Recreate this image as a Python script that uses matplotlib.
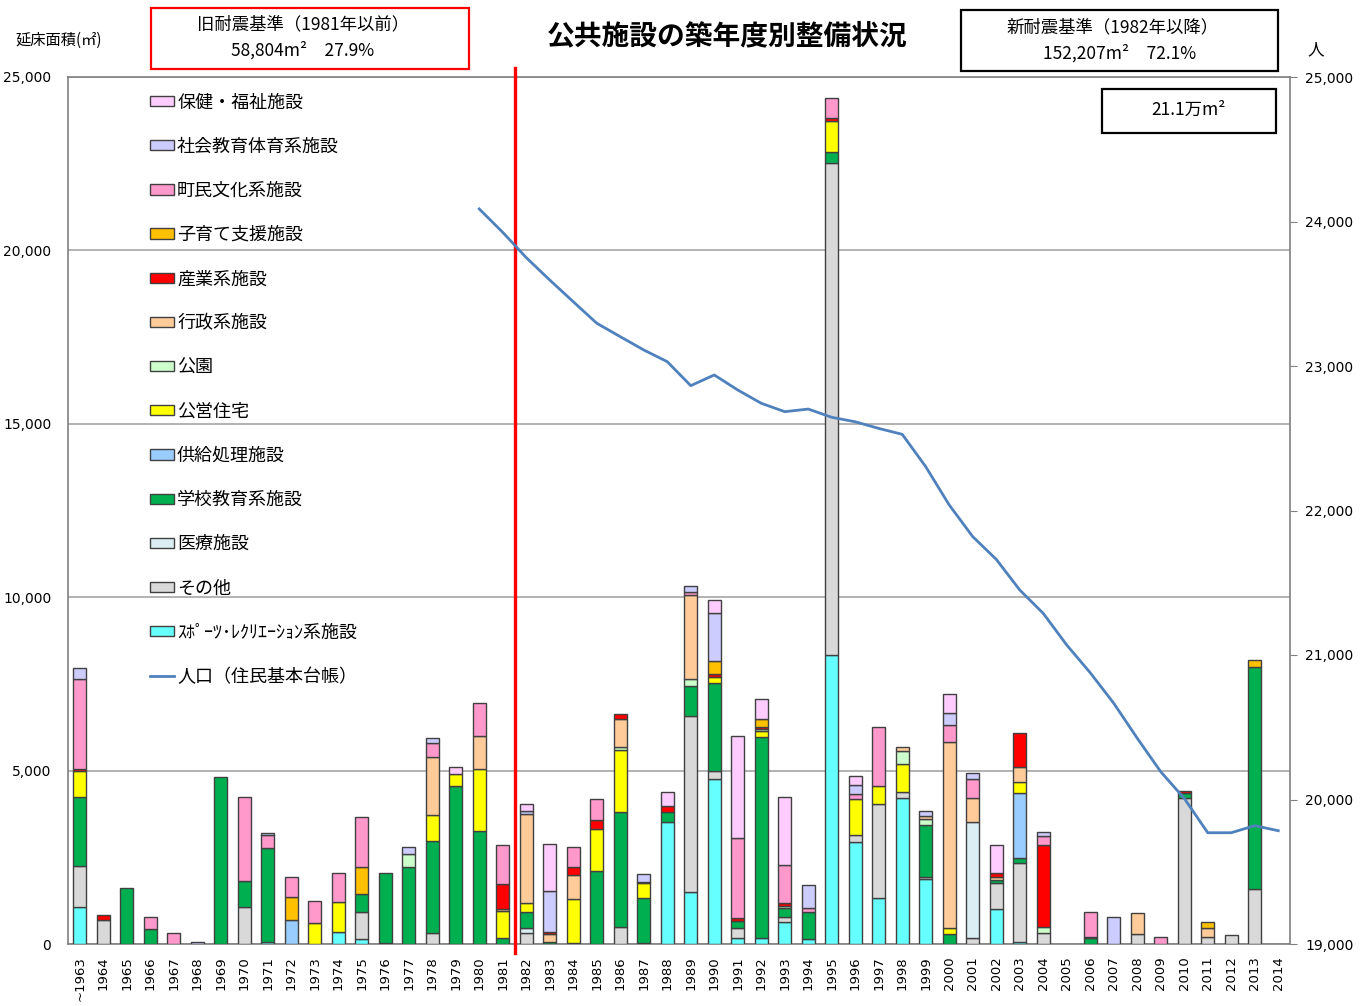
import matplotlib.pyplot as plt
import numpy as np
from matplotlib.patches import Patch, Rectangle
from matplotlib.lines import Line2D

plt.rcParams['font.family'] = ['Noto Sans CJK JP', 'DejaVu Sans']

years = list(range(1963, 2015))
year_labels = ['~1963'] + [str(y) for y in years[1:]]

# 延床面積 (m2) by category, 1963 .. 2014 (rows of 10 years)
sports = [1060, 0, 0, 0, 0, 0, 0, 0, 70, 0,
          0, 355, 145, 0, 0, 0, 0, 0, 0, 0,
          0, 0, 0, 0, 0, 3527, 1510, 4750, 180, 175,
          645, 145, 8333, 2950, 1335, 4200, 1865, 0, 0, 1020,
          67, 0, 0, 0, 0, 0, 0, 0, 0, 0,
          0, 0]
other = [1200, 690, 0, 0, 0, 0, 0, 1060, 0, 0,
         0, 0, 770, 40, 0, 330, 0, 0, 0, 310,
         0, 0, 0, 500, 20, 0, 5066, 230, 290, 0,
         145, 0, 14178, 185, 2695, 180, 75, 0, 180, 750,
         2260, 310, 0, 0, 0, 280, 0, 4200, 210, 260,
         1590, 0]
medical = [0, 0, 0, 0, 0, 0, 0, 0, 0, 0,
           0, 0, 0, 0, 0, 0, 0, 0, 0, 145,
           0, 0, 0, 0, 0, 0, 0, 0, 0, 0,
           0, 0, 0, 0, 0, 0, 0, 0, 3345, 0,
           0, 0, 0, 0, 0, 0, 0, 0, 0, 0,
           0, 0]
school = [1970, 0, 1620, 420, 0, 0, 4810, 760, 2690, 0,
          0, 0, 540, 2015, 2230, 2640, 4556, 3250, 170, 460,
          60, 40, 2110, 3316, 1315, 290, 875, 2540, 190, 5805,
          240, 780, 326, 0, 0, 0, 1490, 290, 0, 77,
          145, 0, 0, 160, 0, 0, 0, 160, 0, 0,
          6400, 0]
supply = [0, 0, 0, 0, 0, 0, 0, 0, 0, 690,
          0, 0, 0, 0, 0, 0, 0, 0, 0, 0,
          0, 0, 0, 0, 0, 0, 0, 0, 0, 0,
          0, 0, 0, 0, 0, 0, 0, 0, 0, 0,
          1875, 0, 0, 0, 0, 0, 0, 0, 0, 0,
          0, 0]
housing = [760, 0, 0, 0, 0, 0, 0, 0, 0, 0,
           600, 845, 0, 0, 0, 740, 346, 1800, 780, 260,
           0, 1260, 1200, 1770, 430, 0, 0, 190, 0, 165,
           0, 0, 903, 1040, 530, 800, 0, 180, 0, 0,
           317, 0, 0, 0, 0, 0, 0, 0, 0, 0,
           0, 0]
park = [0, 0, 0, 0, 0, 0, 0, 0, 0, 0,
        0, 0, 0, 0, 360, 0, 0, 0, 0, 0,
        0, 0, 0, 90, 0, 0, 183, 0, 0, 65,
        65, 0, 0, 0, 0, 390, 170, 0, 0, 0,
        0, 170, 0, 0, 0, 0, 0, 0, 0, 0,
        0, 0]
admin = [0, 0, 0, 0, 0, 0, 0, 0, 0, 0,
         0, 0, 0, 0, 0, 1690, 0, 950, 65, 2570,
         230, 680, 0, 815, 0, 0, 2432, 0, 0, 0,
         0, 0, 0, 0, 0, 115, 80, 5345, 675, 77,
         450, 0, 0, 0, 0, 605, 0, 0, 240, 0,
         0, 0]
industry = [50, 160, 0, 0, 0, 0, 0, 0, 0, 0,
            0, 0, 0, 0, 0, 0, 0, 0, 710, 0,
            50, 250, 270, 155, 30, 170, 0, 70, 80, 50,
            75, 0, 70, 0, 0, 0, 0, 0, 0, 125,
            962, 2375, 0, 40, 0, 0, 0, 50, 0, 0,
            0, 0]
childcare = [0, 0, 0, 0, 0, 0, 0, 0, 0, 670,
             0, 0, 760, 0, 0, 0, 0, 0, 0, 0,
             0, 0, 0, 0, 0, 0, 0, 380, 0, 220,
             0, 0, 0, 0, 0, 0, 0, 0, 0, 0,
             0, 0, 0, 0, 0, 0, 0, 0, 190, 0,
             200, 0]
culture = [2600, 0, 0, 370, 330, 0, 0, 2430, 385, 575,
           640, 855, 1460, 0, 0, 385, 0, 960, 1140, 0,
           0, 570, 615, 0, 0, 0, 95, 0, 2310, 0,
           1115, 105, 577, 145, 1700, 0, 0, 510, 550, 0,
           0, 260, 0, 710, 0, 0, 210, 0, 0, 0,
           0, 0]
social = [320, 0, 0, 0, 0, 60, 0, 0, 70, 0,
          0, 0, 0, 0, 220, 145, 0, 0, 0, 90,
          1200, 0, 0, 0, 230, 0, 165, 1375, 0, 0,
          0, 670, 0, 270, 0, 0, 145, 345, 190, 0,
          0, 125, 0, 0, 770, 0, 0, 0, 0, 0,
          0, 0]
welfare = [0, 0, 0, 0, 0, 0, 0, 0, 0, 0,
           0, 0, 0, 0, 0, 0, 210, 0, 0, 200,
           1335, 0, 0, 0, 0, 400, 0, 390, 2960, 595,
           1945, 0, 0, 260, 0, 0, 0, 540, 0, 820,
           0, 0, 0, 0, 0, 0, 0, 0, 0, 0,
           0, 0]

# 人口 (住民基本台帳), 1980 .. 2014
pop_years = list(range(1980, 2015))
population = [24087, 23925, 23750, 23595, 23445, 23296, 23203, 23111, 23030, 22864,
              22938, 22834, 22742, 22684, 22702, 22645, 22614, 22568, 22527, 22303,
              22038, 21819, 21662, 21450, 21288, 21069, 20877, 20666, 20424, 20192,
              20008, 19770, 19770, 19819, 19784]

# stacking order, bottom to top
series = [
    ('ｽﾎﾟｰﾂ･ﾚｸﾘｴｰｼｮﾝ系施設', sports, '#66FFFF'),
    ('その他', other, '#D9D9D9'),
    ('医療施設', medical, '#DAEEF3'),
    ('学校教育系施設', school, '#00B050'),
    ('供給処理施設', supply, '#99CCFF'),
    ('公営住宅', housing, '#FFFF00'),
    ('公園', park, '#CCFFCC'),
    ('行政系施設', admin, '#FFCC99'),
    ('産業系施設', industry, '#FF0000'),
    ('子育て支援施設', childcare, '#FFC000'),
    ('町民文化系施設', culture, '#FF99CC'),
    ('社会教育体育系施設', social, '#CCCCFF'),
    ('保健・福祉施設', welfare, '#FFCCFF'),
]

fig = plt.figure(figsize=(13.68, 10.06), dpi=100)
ax = fig.add_axes([68 / 1368, 1 - 944 / 1006, 1222 / 1368, 867 / 1006])

x = np.arange(len(years))
bottom = np.zeros(len(years))
for name, vals, col in series:
    v = np.array(vals, dtype=float)
    m = v > 0
    ax.bar(x[m], v[m], 0.55, bottom=bottom[m], color=col,
           edgecolor='#404040', linewidth=1.0, zorder=3)
    bottom += v

ax.set_xlim(-0.5, len(years) - 0.5)
ax.set_ylim(0, 25000)
ax.set_yticks(range(0, 25001, 5000))
ax.set_yticklabels([f'{v:,}' for v in range(0, 25001, 5000)],
                   fontsize=10, family='DejaVu Sans')
ax.set_xticks(x)
ax.set_xticklabels(year_labels, rotation=90, fontsize=9.5, family='DejaVu Sans')
ax.tick_params(axis='x', length=0, pad=9)
ax.tick_params(axis='y', length=0, pad=12)
ax.grid(axis='y', color='#A6A6A6', linewidth=1.2, zorder=0)
ax.set_axisbelow(True)
for s in ax.spines.values():
    s.set_color('#808080')
    s.set_linewidth(1.2)

# 1981 / 1982 border
ax.plot([18.5, 18.5], [-0.01, 1.01], color='red', linewidth=2.4,
        transform=ax.get_xaxis_transform(), clip_on=False, zorder=6)

ax2 = ax.twinx()
ax2.plot([years.index(y) for y in pop_years], population, color='#4F81BD',
         linewidth=2, zorder=4)
ax2.set_ylim(19000, 25000)
ax2.set_yticks(range(19000, 25001, 1000))
ax2.set_yticklabels([f'{v:,}' for v in range(19000, 25001, 1000)],
                    fontsize=10, family='DejaVu Sans')
ax2.tick_params(axis='y', length=5, color='#808080', pad=6)
for s in ax2.spines.values():
    s.set_visible(False)

handles = [Patch(facecolor=col, edgecolor='#404040', linewidth=1.0, label=name)
           for name, vals, col in series[::-1]]
handles.append(Line2D([], [], color='#4F81BD', linewidth=2, label='人口（住民基本台帳）'))
ax2.legend(handles=handles, loc='upper left', bbox_to_anchor=(82 / 1222, 0.981),
           frameon=False, fontsize=13, borderpad=0, borderaxespad=0,
           labelspacing=1.45, handlelength=1.35, handleheight=0.5, handletextpad=0.15)

# header
fig.text(15 / 1368, 1 - 40 / 1006, '延床面積(㎡)', fontsize=11, va='center', ha='left')
fig.text(1316 / 1368, 1 - 50 / 1006, '人', fontsize=12, va='center', ha='center')
fig.text(727 / 1368, 1 - 36 / 1006, '公共施設の築年度別整備状況', fontsize=20,
         fontweight='bold', va='center', ha='center')

fig.add_artist(Rectangle((151 / 1368, 1 - 69 / 1006), 318 / 1368, 61 / 1006,
                         transform=fig.transFigure, fill=False, edgecolor='red', linewidth=1.6))
fig.text(303 / 1368, 1 - 24 / 1006, '旧耐震基準（1981年以前）', fontsize=12.5, va='center', ha='center')
fig.text(303 / 1368, 1 - 50 / 1006, '58,804m²　27.9%', fontsize=12.5, va='center', ha='center')

fig.add_artist(Rectangle((961 / 1368, 1 - 71 / 1006), 317 / 1368, 61 / 1006,
                         transform=fig.transFigure, fill=False, edgecolor='black', linewidth=1.6))
fig.text(1113 / 1368, 1 - 27 / 1006, '新耐震基準（1982年以降）', fontsize=12.5, va='center', ha='center')
fig.text(1120 / 1368, 1 - 53 / 1006, '152,207m²　72.1%', fontsize=12.5, va='center', ha='center')

fig.add_artist(Rectangle((1102 / 1368, 1 - 133 / 1006), 174 / 1368, 44 / 1006,
                         transform=fig.transFigure, fill=False, edgecolor='black', linewidth=1.6))
fig.text(1189 / 1368, 1 - 110 / 1006, '21.1万m²', fontsize=12.5, va='center', ha='center')

fig.savefig('out.png', dpi=100)
